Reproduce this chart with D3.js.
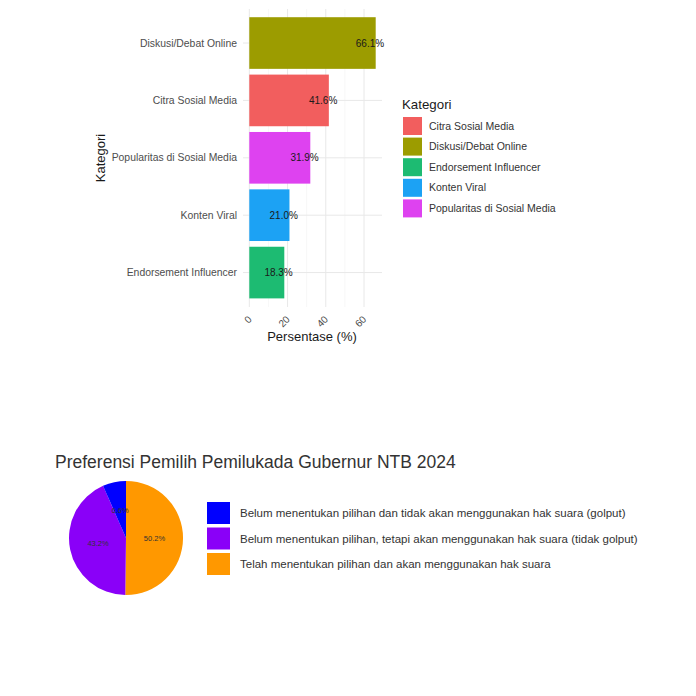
<!DOCTYPE html>
<html>
<head>
<meta charset="utf-8">
<script src="https://cdn.jsdelivr.net/npm/d3@7"></script>
<style>
	body { margin: 0; background: #fff; font-family: "Liberation Sans", Arial, sans-serif; }
	svg text { font-family: "Liberation Sans", Arial, sans-serif; }
</style>
</head>
<body>
<div id="chart"></div>
<script>
// bar chart data (top to bottom)
const barCategories = ["Diskusi/Debat Online", "Citra Sosial Media", "Popularitas di Sosial Media", "Konten Viral", "Endorsement Influencer"];
const barValues = [66.1, 41.6, 31.9, 21.0, 18.3];
const xTicks = [0, 20, 40, 60];
const legendCategories = ["Citra Sosial Media", "Diskusi/Debat Online", "Endorsement Influencer", "Konten Viral", "Popularitas di Sosial Media"];
const legendColors = ["#F25E5E", "#9C9C00", "#1DBB72", "#1CA2F4", "#DE42F0"];

// pie chart data
const pieLabels = [
	"Belum menentukan pilihan dan tidak akan menggunakan hak suara (golput)",
	"Belum menentukan pilihan, tetapi akan menggunakan hak suara (tidak golput)",
	"Telah menentukan pilihan dan akan menggunakan hak suara"
];
const pieValues = [6.6, 43.2, 50.2];
const pieColors = ["#0000FF", "#8A00F8", "#FF9800"];
const pieOrder = [2, 1, 0]; // clockwise from 12 o'clock

const svg = d3.select("#chart")
	.append("svg")
		.attr("width", 696)
		.attr("height", 696);

// ---------- bar chart ----------
const color = d3.scaleOrdinal().domain(legendCategories).range(legendColors);

const x = d3.scaleLinear()
	.domain([-3.3, 69.4])
	.range([243, 382]);

const y = d3.scaleBand()
	.domain(barCategories)
	.range([8.6, 307])
	.paddingOuter(0.15)
	.paddingInner(0.1);

const bar = svg.append("g");

// grid
bar.selectAll(".minor")
	.data([10, 30, 50])
	.join("line")
		.attr("x1", d => x(d)).attr("x2", d => x(d))
		.attr("y1", 9).attr("y2", 307)
		.attr("stroke", "#f2f2f2").attr("stroke-width", 0.6);
bar.selectAll(".major")
	.data(xTicks)
	.join("line")
		.attr("x1", d => x(d)).attr("x2", d => x(d))
		.attr("y1", 9).attr("y2", 307)
		.attr("stroke", "#e8e8e8").attr("stroke-width", 1);
bar.selectAll(".hgrid")
	.data(barCategories)
	.join("line")
		.attr("x1", 243).attr("x2", 382)
		.attr("y1", d => y(d) + y.bandwidth() / 2)
		.attr("y2", d => y(d) + y.bandwidth() / 2)
		.attr("stroke", "#e8e8e8").attr("stroke-width", 1);

// bars
bar.selectAll("rect")
	.data(barCategories)
	.join("rect")
		.attr("x", x(0))
		.attr("y", d => y(d))
		.attr("width", (d, i) => x(barValues[i]) - x(0))
		.attr("height", y.bandwidth())
		.attr("fill", d => color(d));

// value labels
bar.selectAll(".val")
	.data(barCategories)
	.join("text")
		.attr("x", (d, i) => x(barValues[i] - 3))
		.attr("y", d => y(d) + y.bandwidth() / 2 + 3.5)
		.attr("text-anchor", "middle")
		.attr("font-size", "10px")
		.attr("fill", "#1a1a1a")
		.text((d, i) => barValues[i].toFixed(1) + "%");

// y axis labels
bar.selectAll(".cat")
	.data(barCategories)
	.join("text")
		.attr("x", 237)
		.attr("y", d => y(d) + y.bandwidth() / 2 + 3.5)
		.attr("text-anchor", "end")
		.attr("font-size", "10.4px")
		.attr("fill", "#4d4d4d")
		.text(d => d);

// x axis tick labels (rotated)
bar.selectAll(".tick")
	.data(xTicks)
	.join("text")
		.attr("transform", d => `translate(${x(d) + 3},${320}) rotate(-45)`)
		.attr("text-anchor", "end")
		.attr("font-size", "10px")
		.attr("fill", "#4d4d4d")
		.text(d => d);

bar.append("text")
	.attr("x", 312).attr("y", 341)
	.attr("text-anchor", "middle")
	.attr("font-size", "13px")
	.attr("fill", "#1a1a1a")
	.text("Persentase (%)");

bar.append("text")
	.attr("transform", "translate(105,158) rotate(-90)")
	.attr("text-anchor", "middle")
	.attr("font-size", "13px")
	.attr("fill", "#1a1a1a")
	.text("Kategori");

// legend
const leg = svg.append("g").attr("transform", "translate(402,0)");
leg.append("text")
	.attr("x", 0).attr("y", 109)
	.attr("font-size", "13.3px")
	.attr("fill", "#1a1a1a")
	.text("Kategori");
leg.selectAll("rect")
	.data(legendCategories)
	.join("rect")
		.attr("x", 1)
		.attr("y", (d, i) => 117 + i * 20.6)
		.attr("width", 19)
		.attr("height", 18)
		.attr("fill", d => color(d));
leg.selectAll(".lt")
	.data(legendCategories)
	.join("text")
		.attr("x", 27)
		.attr("y", (d, i) => 129.5 + i * 20.6)
		.attr("font-size", "10.5px")
		.attr("fill", "#333")
		.text(d => d);

// ---------- pie chart ----------
svg.append("text")
	.attr("x", 55).attr("y", 468)
	.attr("font-size", "17.5px")
	.attr("fill", "#333")
	.text("Preferensi Pemilih Pemilukada Gubernur NTB 2024");

const pieData = pieOrder.map(i => ({ label: pieLabels[i], value: pieValues[i], color: pieColors[i] }));
const pie = d3.pie().sort(null).value(d => d.value);
const r = 57;
const arc = d3.arc().innerRadius(0).outerRadius(r);
const labelArc = d3.arc().innerRadius(r * 0.5).outerRadius(r * 0.5);

const pg = svg.append("g").attr("transform", "translate(126,538)");
pg.selectAll("path")
	.data(pie(pieData))
	.join("path")
		.attr("d", arc)
		.attr("fill", d => d.data.color);
pg.selectAll("text")
	.data(pie(pieData))
	.join("text")
		.attr("transform", d => `translate(${labelArc.centroid(d)})`)
		.attr("text-anchor", "middle")
		.attr("dy", "0.35em")
		.attr("font-size", "7.5px")
		.attr("fill", "#333")
		.text(d => d.data.value.toFixed(1) + "%");

const pl = svg.append("g").attr("transform", "translate(207,0)");
pl.selectAll("rect")
	.data(pieLabels)
	.join("rect")
		.attr("x", 0)
		.attr("y", (d, i) => 502 + i * 25.5)
		.attr("width", 23)
		.attr("height", 22)
		.attr("fill", (d, i) => pieColors[i]);
pl.selectAll("text")
	.data(pieLabels)
	.join("text")
		.attr("x", 33)
		.attr("y", (d, i) => 517 + i * 25.5)
		.attr("font-size", "11.5px")
		.attr("fill", "#333")
		.text(d => d);
</script>
</body>
</html>
